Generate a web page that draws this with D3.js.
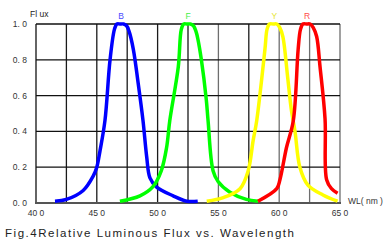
<!DOCTYPE html>
<html>
<head>
    <meta charset="UTF-8">
    <script type="text/javascript" src="https://d3js.org/d3.v7.min.js"></script>
    <style>
        body { margin: 0; background: #fff; }
        text { font-family: "Liberation Sans", Arial, sans-serif; }
    </style>
</head>
<body>
    <svg width="385" height="244"></svg>
    <script>
        // wavelength (nm) and relative flux
        var blueWl   = [415.6, 425, 438.8, 447, 450, 452.6, 456.7, 460.9, 464.5, 466.5, 469, 472, 474.5, 476.5, 480, 484, 488, 491, 493.7, 499, 512.8, 524, 533];
        var blueFlux = [0.01, 0.02, 0.07, 0.15, 0.2, 0.29, 0.46, 0.8, 0.97, 1.0, 1.0, 1.0, 0.99, 0.96, 0.86, 0.67, 0.46, 0.26, 0.14, 0.09, 0.04, 0.01, 0.01];
        var greenWl   = [469, 485.5, 496, 503, 507.4, 510, 517, 519.5, 521.5, 524, 527, 529.5, 531.5, 533, 536, 540, 541.5, 545.6, 549.7, 559.5, 573, 582.5];
        var greenFlux = [0.01, 0.04, 0.09, 0.18, 0.31, 0.46, 0.76, 0.97, 1.0, 1.0, 1.0, 0.99, 0.96, 0.92, 0.8, 0.58, 0.46, 0.18, 0.12, 0.06, 0.02, 0.01];
        var yellowWl   = [540.4, 554, 567.8, 574.5, 578.6, 581.5, 588.3, 590, 592, 595, 598, 600.5, 603, 607, 610, 613, 617, 623.6, 636, 648];
        var yellowFlux = [0.01, 0.03, 0.08, 0.18, 0.35, 0.46, 0.86, 0.97, 1.0, 1.0, 1.0, 0.98, 0.93, 0.7, 0.52, 0.4, 0.2, 0.1, 0.045, 0.01];
        var redWl   = [582.5, 598, 600.6, 606, 611.6, 615.6, 617.5, 619.5, 622.5, 625.5, 628, 630.8, 633.6, 637.7, 639, 643, 648];
        var redFlux = [0.01, 0.08, 0.13, 0.31, 0.46, 0.86, 0.97, 1.0, 1.0, 1.0, 0.98, 0.93, 0.76, 0.47, 0.13, 0.08, 0.055];

        var seriesNames  = ["B", "F", "Y", "R"];
        var seriesPeaks  = [470, 525, 596, 623];
        var xTicks = [400, 450, 500, 550, 600, 650];
        var xTickLabels = ["40 0", "45 0", "50 0", "55 0", "60 0", "65 0"];
        var yTicks = [0, 0.2, 0.4, 0.6, 0.8, 1.0];
        var yTickLabels = ["0. 0", "0. 2", "0. 4", "0. 6", "0. 8", "1. 0"];

        var lineColors  = ["#0000ff", "#00ff00", "#ffff00", "#ff0000"];
        var labelColors = ["#4a4aff", "#44ee44", "#e6e630", "#ff4a4a"];

        var svg = d3.select("svg");
        var marge = {top: 24, left: 36, right: 45, bottom: 41};
        var width = 385, height = 244;

        var x = d3.scaleLinear().domain([400, 650]).range([marge.left, width - marge.right]);
        var y = d3.scaleLinear().domain([0, 1]).range([height - marge.bottom, marge.top]);

        // grid
        var g = svg.append("g");
        g.selectAll(".vgrid")
            .data(d3.range(425, 651, 25))
            .enter().append("line")
            .attr("x1", function(d){ return x(d); })
            .attr("x2", function(d){ return x(d); })
            .attr("y1", y(1)).attr("y2", y(0))
            .attr("stroke", function(d){ return d >= 550 && d != 575 ? "#6e6e6e" : "#1a1a1a"; })
            .attr("stroke-width", 1.3);
        g.selectAll(".hgrid")
            .data([0.2, 0.4, 0.6, 0.8, 1.0])
            .enter().append("line")
            .attr("x1", x(400)).attr("x2", x(650))
            .attr("y1", function(d){ return y(d); })
            .attr("y2", function(d){ return y(d); })
            .attr("stroke", "#111").attr("stroke-width", 1.3);
        // left axis
        g.append("line")
            .attr("x1", x(400)).attr("x2", x(400))
            .attr("y1", y(1)).attr("y2", y(0))
            .attr("stroke", "#111").attr("stroke-width", 1.3);
        // bottom axis
        g.append("line")
            .attr("x1", x(400) - 1).attr("x2", x(650) + 1)
            .attr("y1", y(0)).attr("y2", y(0))
            .attr("stroke", "#555").attr("stroke-width", 2);

        // curves
        var wls = [blueWl, greenWl, yellowWl, redWl];
        var fluxes = [blueFlux, greenFlux, yellowFlux, redFlux];
        var line = d3.line()
            .x(function(d){ return x(d[0]); })
            .y(function(d){ return y(d[1]); })
            .curve(d3.curveCatmullRom.alpha(0.5));
        wls.forEach(function(wl, i){
            var pts = wl.map(function(w, j){ return [w, fluxes[i][j]]; });
            svg.append("path")
                .datum(pts)
                .attr("d", line)
                .attr("fill", "none")
                .attr("stroke", lineColors[i])
                .attr("stroke-width", 3.5)
                .attr("stroke-linejoin", "round");
        });

        // series labels
        svg.selectAll(".slabel")
            .data(seriesNames)
            .enter().append("text")
            .attr("x", function(d, i){ return x(seriesPeaks[i]); })
            .attr("y", 19)
            .attr("text-anchor", "middle")
            .attr("font-size", 8.5)
            .attr("fill", function(d, i){ return labelColors[i]; })
            .text(function(d){ return d; });

        // tick labels
        svg.selectAll(".xlab")
            .data(xTicks)
            .enter().append("text")
            .attr("x", function(d){ return x(d); })
            .attr("y", 216)
            .attr("text-anchor", "middle")
            .attr("font-size", 8.5)
            .attr("fill", "#333")
            .text(function(d, i){ return xTickLabels[i]; });
        svg.selectAll(".ylab")
            .data(yTicks)
            .enter().append("text")
            .attr("x", 27)
            .attr("y", function(d){ return y(d) + 3; })
            .attr("text-anchor", "end")
            .attr("font-size", 8.5)
            .attr("fill", "#333")
            .text(function(d, i){ return yTickLabels[i]; });

        svg.append("text")
            .attr("x", 30).attr("y", 17)
            .attr("font-size", 8.5).attr("fill", "#222")
            .text("Fl ux");
        svg.append("text")
            .attr("x", 348).attr("y", 204)
            .attr("font-size", 8.5).attr("fill", "#333")
            .text("WL( nm )");

        svg.append("text")
            .attr("x", 5).attr("y", 237)
            .attr("font-size", 11.5).attr("fill", "#222")
            .attr("textLength", 289).attr("lengthAdjust", "spacing")
            .text("Fig.4Relative Luminous Flux vs. Wavelength");
    </script>
</body>
</html>
